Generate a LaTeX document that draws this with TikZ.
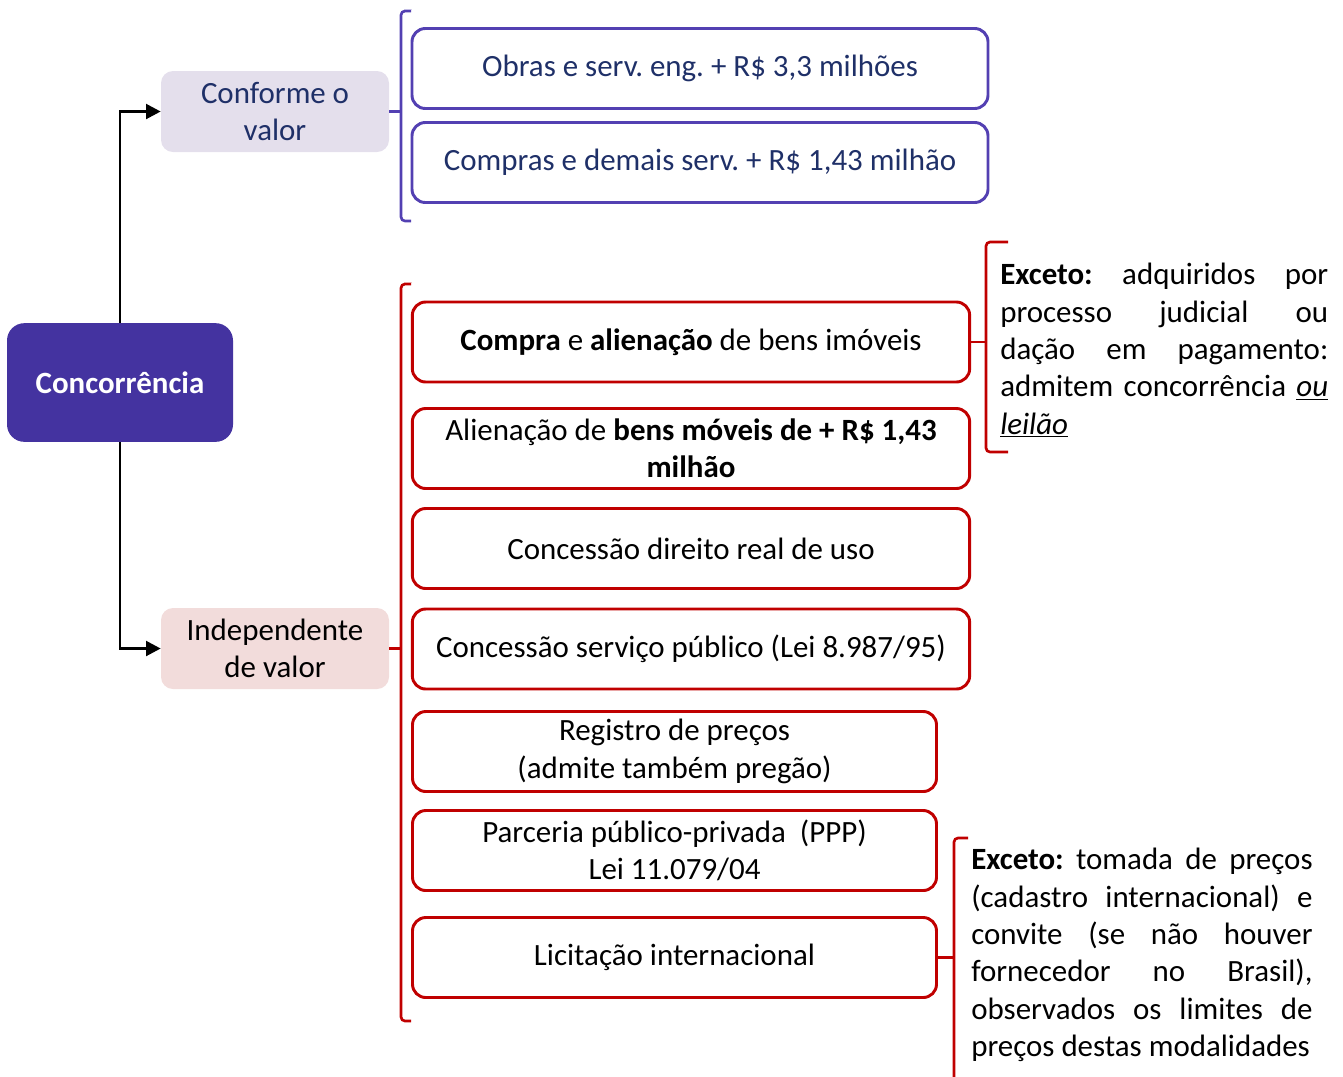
\documentclass[tikz,border=0pt]{standalone}
\usepackage{fontspec}
\setmainfont{Carlito}
\usetikzlibrary{arrows.meta}
\definecolor{concfill}{RGB}{68,51,160}
\definecolor{purp}{RGB}{83,64,178}
\definecolor{navy}{RGB}{31,48,104}
\definecolor{darkred}{RGB}{192,0,0}
\definecolor{lav}{RGB}{228,223,236}
\definecolor{pinkf}{RGB}{242,220,219}
\newcommand{\fs}{\fontsize{23.2}{28}\selectfont}
\frenchspacing
\begin{document}
\frenchspacing
\begin{tikzpicture}[x=0.75pt,y=-0.75pt,
  every node/.style={inner sep=0pt, font=\fs},
  pbox/.style={draw=purp, line width=2.2pt, rounded corners=10pt, minimum width=432pt, minimum height=60pt, text=navy, align=center},
  rbox/.style={draw=darkred, line width=2.2pt, rounded corners=10pt, minimum height=60pt, align=center},
  wide/.style={minimum width=418pt},
  narrow/.style={minimum width=393pt},
  soft/.style={rounded corners=9pt, minimum width=171pt, minimum height=60.75pt, align=center},
  pbrace/.style={draw=purp, line width=2pt},
  rbrace/.style={draw=darkred, line width=2pt},
  conn/.style={draw=black, line width=2.2pt}]
\useasboundingbox (0,0) rectangle (1343,1076);

% main nodes
\node[fill=concfill, rounded corners=13pt, minimum width=169.5pt, minimum height=89pt, text=white, font=\fs\bfseries] (conc) at (120,382.5) {Concorrência};
\node[soft, fill=lav, text=navy] (conf) at (275,111.5) {\makebox[111pt][s]{Conforme o}\\valor};
\node[soft, fill=pinkf] (indep) at (275,648.5) {Independente\\de valor};

\draw[conn, -{Triangle[length=11pt,width=11pt]}] (conc.north) |- (conf.west);
\draw[conn, -{Triangle[length=11pt,width=11pt]}] (conc.south) |- (indep.west);

% purple boxes
\node[pbox] (obras) at (700,68.5) {Obras e serv. eng. + R\$ 3,3 milhões};
\node[pbox] (compras) at (700,162.5) {Compras e demais serv. + R\$ 1,43 milhão};

% red boxes
\node[rbox, wide] (b1) at (691,342) {\textbf{Compra} e \textbf{alienação} de bens imóveis};
\node[rbox, wide] (b2) at (691,448.5) {Alienação de \textbf{bens móveis de + R\$ 1,43}\\\textbf{milhão}};
\node[rbox, wide] (b3) at (691,548.5) {Concessão direito real de uso};
\node[rbox, wide] (b4) at (691,649) {Concessão serviço público (Lei 8.987/95)};
\node[rbox, narrow] (b5) at (674.5,751.5) {Registro de preços\\(admite também pregão)};
\node[rbox, narrow] (b6) at (674.5,850.5) {Parceria público-privada\ \ (PPP)\\Lei 11.079/04};
\node[rbox, narrow] (b7) at (674.5,957.5) {Licitação internacional};

% braces
\draw[pbrace] (411,11) -- (404,11) [rounded corners=3pt] -- (401,11) -- (401,221) -- (411,221);
\coordinate (pb) at (401,116);
\draw[pbrace] (conf.east) -- (conf.east -| pb);

\draw[rbrace] (411,284) -- (404,284) [rounded corners=3pt] -- (401,284) -- (401,1021) -- (411,1021);
\coordinate (rb) at (401,652);
\draw[rbrace] (indep.east) -- (indep.east -| rb);

\draw[rbrace, rounded corners=3pt] (1008,242) -- (986,242) -- (986,452) -- (1008,452);
\coordinate (rb1) at (986,342);
\draw[rbrace] (b1.east) -- (b1.east -| rb1);

\draw[rbrace, rounded corners=3pt] (968,838) -- (954,838) -- (954,1080);
\coordinate (rb2) at (954,957);
\draw[rbrace] (b7.east) -- (b7.east -| rb2);

% side notes
\node[anchor=north west, align=left] (ex1) at (1000,263) {%
\makebox[246pt][s]{\textbf{Exceto:} adquiridos por}\\
\makebox[246pt][s]{processo judicial ou}\\
\makebox[246pt][s]{dação em pagamento:}\\
\makebox[246pt][s]{admitem concorrência \underline{\textit{ou}}}\\
\underline{\textit{leilão}}};

\node[anchor=north west, align=left] (ex2) at (971,848) {%
\makebox[256pt][s]{\textbf{Exceto:} tomada de preços}\\
\makebox[256pt][s]{(cadastro internacional) e}\\
\makebox[256pt][s]{convite (se não houver}\\
\makebox[256pt][s]{fornecedor no Brasil),}\\
\makebox[256pt][s]{observados os limites de}\\
preços destas modalidades};
\end{tikzpicture}
\end{document}
